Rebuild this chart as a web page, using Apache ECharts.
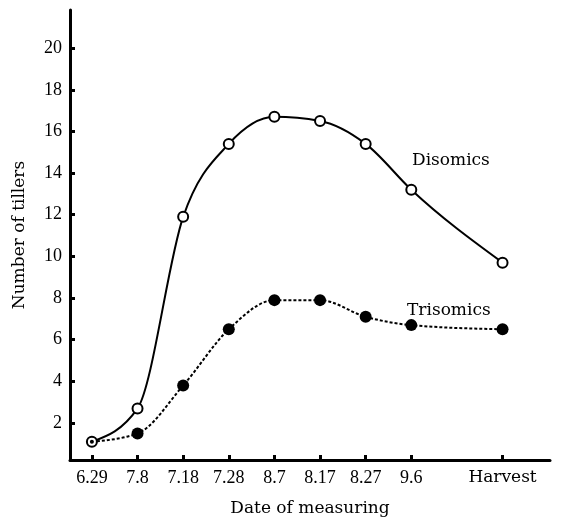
<!DOCTYPE html>
<html>
<head>
<meta charset="utf-8">
<script src="https://cdn.jsdelivr.net/npm/echarts@6/dist/echarts.min.js"></script>
<style>html,body{margin:0;padding:0;background:#fff}#c{width:561px;height:520px}</style>
</head>
<body>
<div id="c"></div>
<script>
// Data
var dates = ['6.29', '7.8', '7.18', '7.28', '8.7', '8.17', '8.27', '9.6', 'Harvest'];
var dateSlots = [0, 1, 2, 3, 4, 5, 6, 7, 9]; // Harvest is placed after a gap
var disomics = [1.1, 2.7, 11.9, 15.4, 16.7, 16.5, 15.4, 13.2, 9.7];
var trisomics = [1.1, 1.5, 3.8, 6.5, 7.9, 7.9, 7.1, 6.7, 6.5];
var yTicks = [2, 4, 6, 8, 10, 12, 14, 16, 18, 20];

var serifNum = '"Liberation Serif", "Times New Roman", serif';
var serifWord = '"DejaVu Serif", serif';

function pairs(vals) {
  return vals.map(function (v, i) { return [dateSlots[i], v]; });
}

// Monotone cubic (Fritsch-Carlson style) through pixel points, as a bezier path
function sign(v) { return v < 0 ? -1 : 1; }
function monotonePath(pts) {
  var n = pts.length, i, t = new Array(n);
  for (i = 1; i < n - 1; i++) {
    var h0 = pts[i][0] - pts[i - 1][0], h1 = pts[i + 1][0] - pts[i][0];
    var s0 = (pts[i][1] - pts[i - 1][1]) / h0, s1 = (pts[i + 1][1] - pts[i][1]) / h1;
    var p = (s0 * h1 + s1 * h0) / (h0 + h1);
    t[i] = (sign(s0) + sign(s1)) * Math.min(Math.abs(s0), Math.abs(s1), 0.5 * Math.abs(p)) || 0;
  }
  var hs = pts[1][0] - pts[0][0];
  t[0] = (3 * (pts[1][1] - pts[0][1]) / hs - t[1]) / 2;
  var he = pts[n - 1][0] - pts[n - 2][0];
  t[n - 1] = (3 * (pts[n - 1][1] - pts[n - 2][1]) / he - t[n - 2]) / 2;
  var path = 'M' + pts[0][0] + ',' + pts[0][1];
  for (i = 0; i < n - 1; i++) {
    var dx = (pts[i + 1][0] - pts[i][0]) / 3;
    path += ' C' + (pts[i][0] + dx) + ',' + (pts[i][1] + dx * t[i]) + ' ' +
      (pts[i + 1][0] - dx) + ',' + (pts[i + 1][1] - dx * t[i + 1]) + ' ' +
      pts[i + 1][0] + ',' + pts[i + 1][1];
  }
  return path;
}

function curveSeries(name, vals, dash) {
  var data = pairs(vals);
  return {
    name: name,
    type: 'custom',
    data: data,
    z: 1,
    silent: true,
    renderItem: function (params, api) {
      if (params.dataIndex !== 0) return null;
      var pts = data.map(function (d) { return api.coord(d); });
      return {
        type: 'path',
        shape: { pathData: monotonePath(pts) },
        style: { fill: 'none', stroke: '#000', lineWidth: 2, lineDash: dash || null }
      };
    }
  };
}

var triMarks = pairs(trisomics).map(function (p, i) {
  return i === 0 ? { value: p, symbolSize: 4 } : p;
});

var chart = echarts.init(document.getElementById('c'), null, { renderer: 'canvas' });
chart.setOption({
  animation: false,
  backgroundColor: '#fff',
  grid: { left: 70, right: 11, top: 10, bottom: 60, containLabel: false, outerBoundsMode: 'none' },
  xAxis: {
    type: 'value',
    min: -0.48,
    max: 10.04,
    splitLine: { show: false },
    axisLine: { show: true, onZero: false, lineStyle: { color: '#000', width: 3 } },
    axisTick: { show: true, inside: true, length: 5, lineStyle: { color: '#000', width: 3 }, customValues: dateSlots },
    axisLabel: {
      show: true, customValues: dateSlots, margin: 9,
      color: '#000', fontSize: 18, fontFamily: serifNum,
      formatter: function (v) {
        var i = dateSlots.indexOf(Math.round(v));
        if (i < 0) return '';
        var t = dates[i];
        return /[A-Za-z]/.test(t) ? '{w|' + t + '}' : t;
      },
      rich: { w: { fontFamily: serifWord, fontSize: 17, color: '#000' } }
    },
    name: 'Date of measuring',
    nameLocation: 'middle',
    nameGap: 40,
    nameTextStyle: { color: '#000', fontSize: 17, fontFamily: serifWord }
  },
  yAxis: {
    type: 'value',
    min: 0.224,
    max: 21.83,
    splitLine: { show: false },
    axisLine: { show: true, onZero: false, lineStyle: { color: '#000', width: 3 } },
    axisTick: { show: true, inside: true, length: 5, lineStyle: { color: '#000', width: 3 }, customValues: yTicks },
    axisLabel: { show: true, customValues: yTicks, margin: 8, color: '#000', fontSize: 18, fontFamily: serifNum },
    name: 'Number of tillers',
    nameLocation: 'middle',
    nameGap: 42,
    nameRotate: 90,
    nameTextStyle: { color: '#000', fontSize: 17, fontFamily: serifWord }
  },
  series: [
    curveSeries('Disomics curve', disomics, null),
    curveSeries('Trisomics curve', trisomics, [3, 2]),
    {
      name: 'Disomics',
      type: 'scatter',
      data: pairs(disomics),
      symbol: 'circle',
      symbolSize: 10,
      itemStyle: { color: '#fff', borderColor: '#000', borderWidth: 2, opacity: 1 },
      z: 3
    },
    {
      name: 'Trisomics',
      type: 'scatter',
      data: triMarks,
      symbol: 'circle',
      symbolSize: 12,
      itemStyle: { color: '#000', borderWidth: 0, opacity: 1 },
      z: 4
    }
  ],
  graphic: [
    { type: 'text', left: 412, top: 152, style: { text: 'Disomics', fill: '#000', font: '17px "DejaVu Serif", serif' } },
    { type: 'text', left: 407, top: 302, style: { text: 'Trisomics', fill: '#000', font: '17px "DejaVu Serif", serif' } }
  ]
});
</script>
</body>
</html>
